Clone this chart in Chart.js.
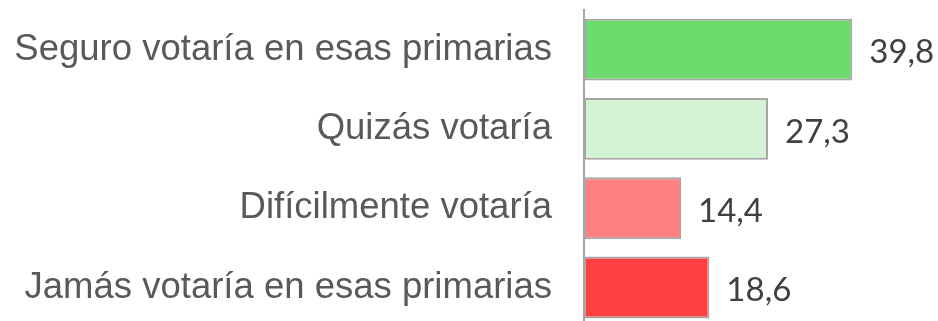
<!DOCTYPE html>
<html>
<head>
<meta charset="utf-8">
<script src="https://cdn.jsdelivr.net/npm/chart.js@4"></script>
<style>
  html, body { margin: 0; padding: 0; background: #fff; overflow: hidden; }
  #wrap { width: 938px; height: 329px; }
</style>
</head>
<body>
<div id="wrap"><canvas id="chart-canvas" width="938" height="329"></canvas></div>
<script>
const categories = [
  'Seguro votaría en esas primarias',
  'Quizás votaría',
  'Difícilmente votaría',
  'Jamás votaría en esas primarias'
]
const values = [39.8, 27.3, 14.4, 18.6]
const barColors = ['#6edb6e', '#d4f2d4', '#ff8080', '#ff4040']

// writes each value with a decimal comma just past the end of its bar
const valueLabels = {
  id: 'valueLabels',
  afterDatasetsDraw(chart) {
    const ctx = chart.ctx
    const meta = chart.getDatasetMeta(0)
    ctx.save()
    ctx.font = '33px Lato'
    ctx.fillStyle = '#404040'
    ctx.textAlign = 'left'
    ctx.textBaseline = 'middle'
    meta.data.forEach((bar, i) => {
      const text = values[i].toFixed(1).replace('.', ',')
      ctx.fillText(text, bar.x + 17, bar.y + 3)
    })
    ctx.restore()
  }
}

const chart = new Chart(document.getElementById('chart-canvas'), {
  type: 'bar',
  data: {
    labels: categories,
    datasets: [{
      data: values,
      backgroundColor: barColors,
      borderColor: '#a6a6a6',
      borderWidth: 2,
      borderSkipped: false,
      barPercentage: 0.78,
      categoryPercentage: 1
    }]
  },
  options: {
    indexAxis: 'y',
    responsive: false,
    animation: false,
    layout: { padding: { top: 10, right: 17, bottom: 0, left: 0 } },
    plugins: { legend: { display: false }, tooltip: { enabled: false } },
    scales: {
      x: { display: false, min: 0, max: 50 },
      y: {
        afterFit: (scale) => { scale.width = 584 },
        // tick marks kept invisible, they only open the gap before the labels
        grid: { color: 'rgba(0,0,0,0)', drawOnChartArea: false, drawTicks: true, tickLength: 32 },
        border: { display: true, color: '#a6a6a6', width: 2 },
        ticks: {
          padding: 0,
          color: '#595959',
          font: { family: 'Liberation Sans', size: 36.5, lineHeight: 0.1 }
        }
      }
    }
  },
  plugins: [valueLabels]
})
</script>
</body>
</html>
